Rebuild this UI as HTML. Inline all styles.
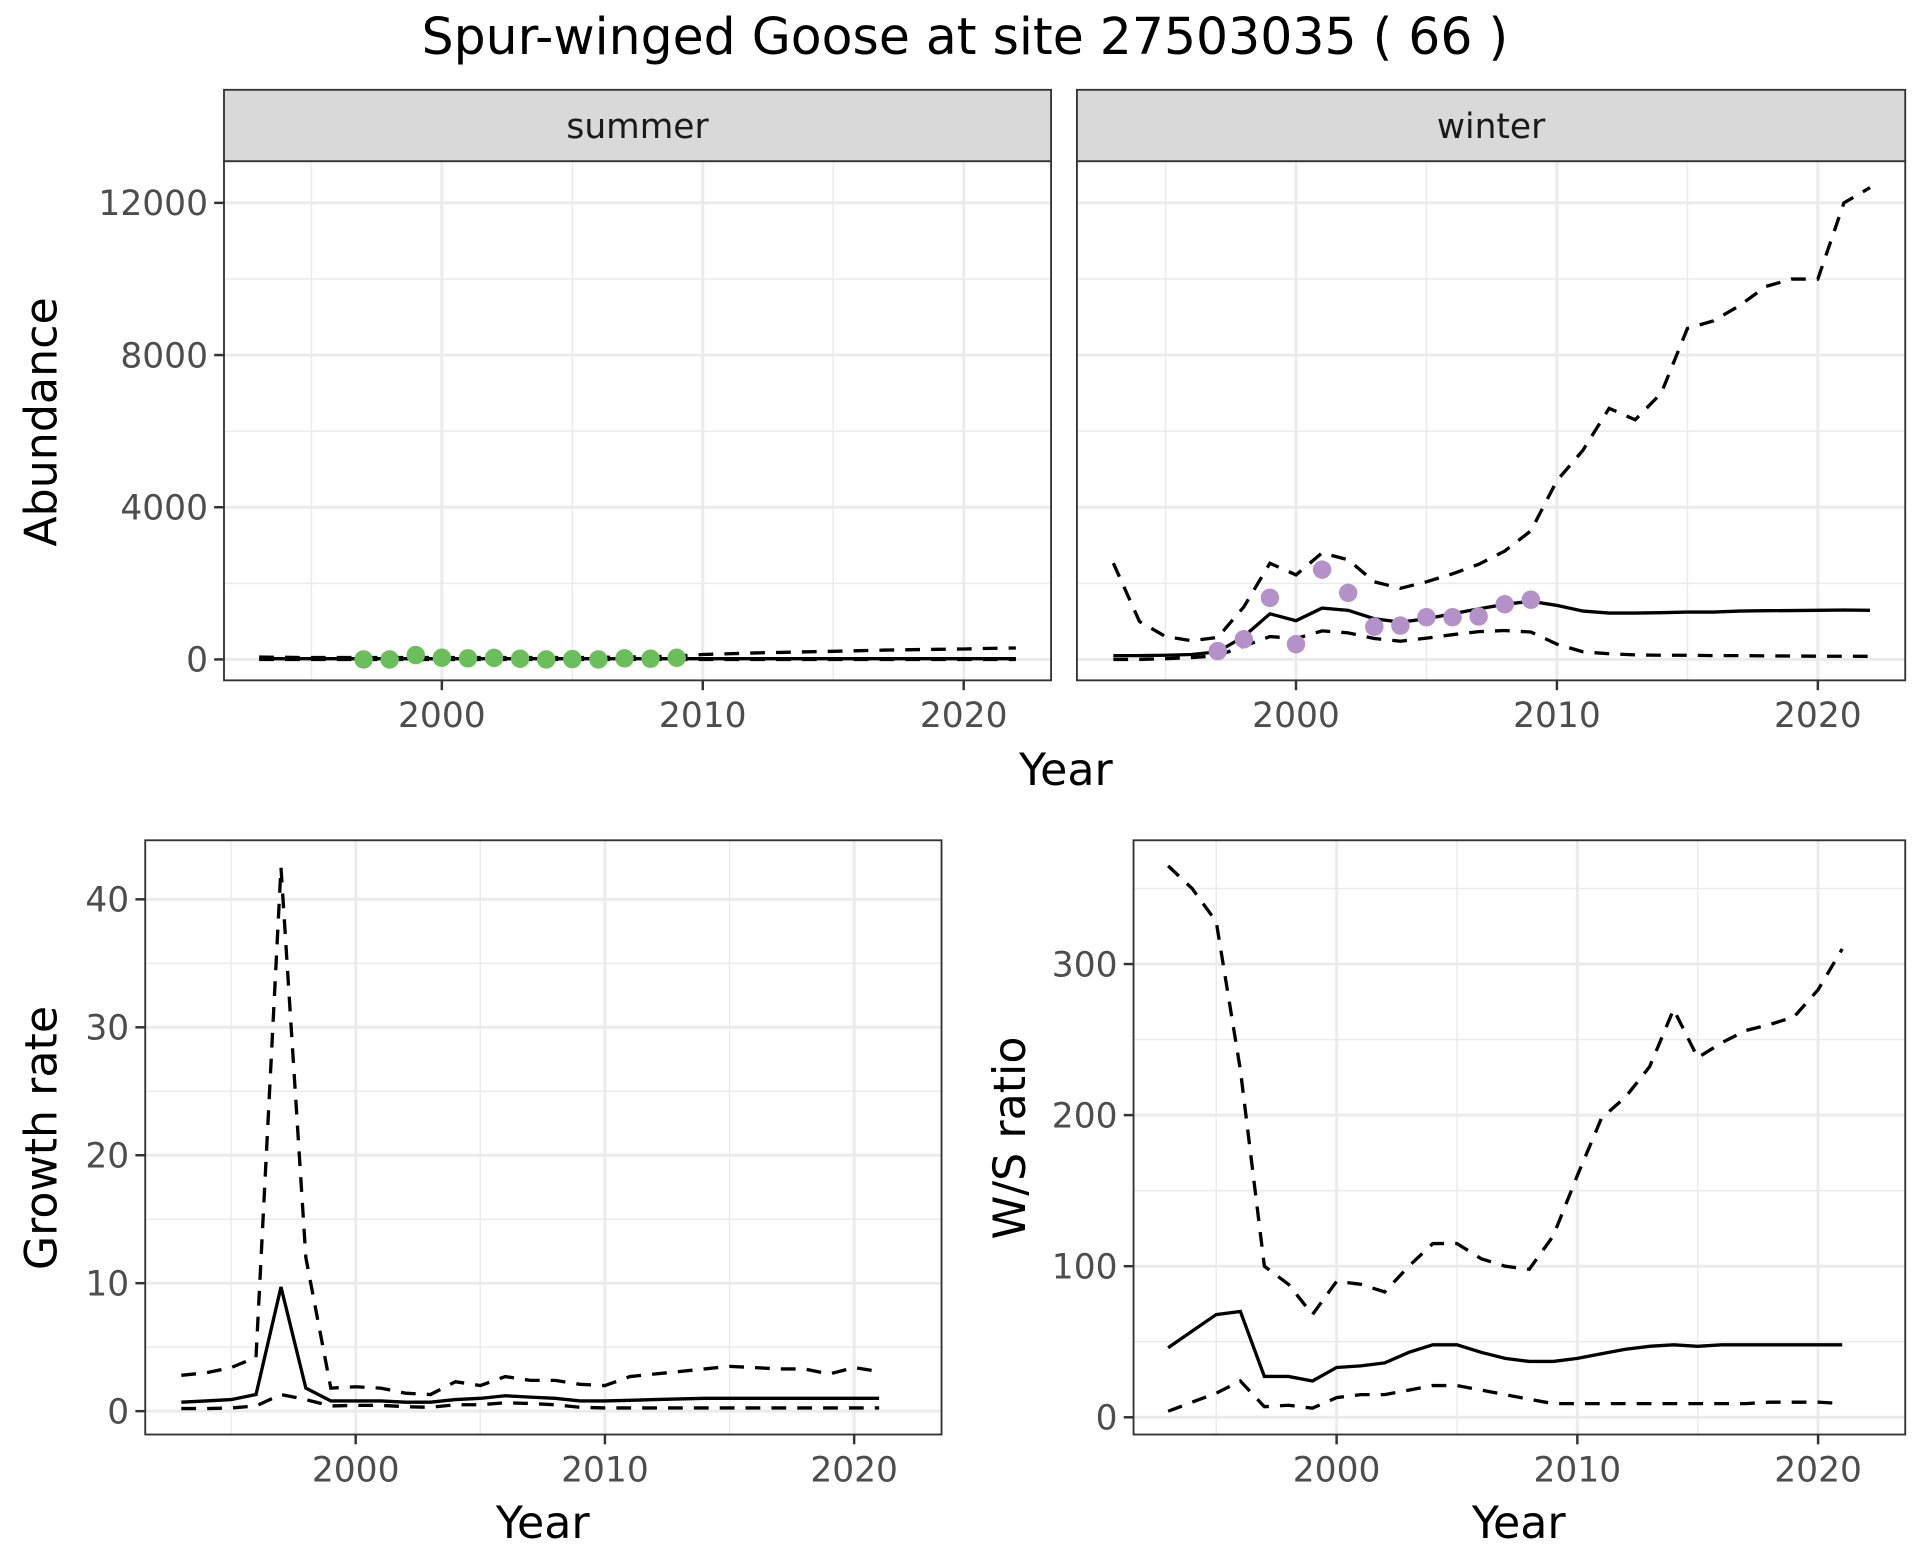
<!DOCTYPE html>
<html><head><meta charset="utf-8"><style>
html,body{margin:0;padding:0;background:#fff;}
svg{display:block;}
text{font-family:"DejaVu Sans","Liberation Sans",sans-serif;}
</style></head><body>
<svg id="chart" width="1920" height="1560" viewBox="0 0 1560 1268" preserveAspectRatio="none" xmlns="http://www.w3.org/2000/svg">
<rect x="0" y="0" width="1560" height="1268" fill="#fff"/>
<text x="784" y="44" font-size="41" text-anchor="middle" fill="#000">Spur-winged Goose at site 27503035 ( 66 )</text>
</svg>
<script>
const yearsA = [1993,1994,1995,1996,1997,1998,1999,2000,2001,2002,2003,2004,2005,2006,2007,2008,2009,2010,2011,2012,2013,2014,2015,2016,2017,2018,2019,2020,2021,2022];
const obsYears = [1997,1998,1999,2000,2001,2002,2003,2004,2005,2006,2007,2008,2009];
const summerMid = [20,20,20,20,20,20,20,20,20,20,20,20,20,20,20,20,20,20,20,20,20,20,20,20,20,20,20,20,20,20];
const summerUp = [60,55,50,50,50,50,50,50,50,50,50,50,50,55,60,70,90,130,150,170,185,200,215,230,245,255,265,275,290,300];
const summerLo = [0,0,0,0,0,0,0,0,0,0,0,0,0,0,0,0,0,0,0,0,0,0,0,0,0,0,0,0,0,0];
const summerObs = [0,0,115,45,30,40,20,0,10,0,30,20,45];
const winterMid = [100,100,110,130,200,600,1200,1020,1350,1290,1070,980,1070,1200,1330,1450,1530,1420,1270,1220,1220,1230,1245,1245,1270,1280,1285,1290,1300,1290];
const winterUp = [2530,1000,600,490,580,1380,2530,2220,2800,2620,2040,1870,2040,2250,2500,2850,3380,4700,5500,6600,6300,7000,8700,8900,9300,9800,10000,10000,12000,12400];
const winterLo = [0,0,20,50,100,350,600,550,750,700,550,480,560,650,730,760,720,400,200,150,120,110,110,100,100,95,90,85,85,80];
const winterObs = [220,530,1620,400,2360,1750,860,890,1110,1110,1130,1450,1570];
const yearsB = [1993,1994,1995,1996,1997,1998,1999,2000,2001,2002,2003,2004,2005,2006,2007,2008,2009,2010,2011,2012,2013,2014,2015,2016,2017,2018,2019,2020,2021];
const growthMid = [0.7,0.8,0.9,1.3,9.7,1.8,0.8,0.8,0.8,0.7,0.7,0.9,1.0,1.2,1.1,1.0,0.8,0.8,0.85,0.9,0.95,1.0,1.0,1.0,1.0,1.0,1.0,1.0,1.0];
const growthUp = [2.8,3.0,3.4,4.2,42.5,12,1.8,1.9,1.8,1.4,1.3,2.3,2.0,2.7,2.4,2.4,2.1,2.0,2.7,2.9,3.1,3.3,3.5,3.4,3.3,3.3,2.9,3.4,3.1];
const growthLo = [0.2,0.2,0.25,0.4,1.3,0.9,0.4,0.45,0.45,0.35,0.3,0.5,0.5,0.65,0.6,0.5,0.3,0.25,0.25,0.25,0.25,0.25,0.25,0.25,0.25,0.25,0.25,0.25,0.25];
const ratioMid = [46,57,68,70,27,27,24,33,34,36,43,48,48,43,39,37,37,39,42,45,47,48,47,48,48,48,48,48,48];
const ratioUp = [365,350,328,230,100,88,68,90,88,83,100,115,115,105,100,98,120,160,198,212,232,270,238,248,256,260,265,283,310];
const ratioLo = [4,10,16,24,7,8,6,13,15,15,18,21,21,18,15,12,9,9,9,9,9,9,9,9,9,10,10,10,9];
const xTicks = [2000,2010,2020];
const xMinor = [1995,2005,2015];
const abTicks = [0,4000,8000,12000];
const abMinor = [2000,6000,10000];
const grTicks = [0,10,20,30,40];
const grMinor = [5,15,25,35];
const raTicks = [0,100,200,300];
const raMinor = [50,150,250,350];

const NS = 'http://www.w3.org/2000/svg';
const svg = document.getElementById('chart');
const TICKFS = 28;
function mk(tag, attrs, parent){
  const e = document.createElementNS(NS, tag);
  for (const k in attrs) e.setAttribute(k, attrs[k]);
  (parent||svg).appendChild(e);
  return e;
}
function panel(name, x0, x1, y0, y1, x2000, pxYr, yZero, pxUnit, yT, yMin, showY){
  const g = mk('g', {});
  
  
  const sx = v => x2000 + (v - 2000) * pxYr;
  const sy = v => yZero - v * pxUnit;
  const clipId = name + '-clip';
  const cp = mk('clipPath', {id: clipId}, g);
  mk('rect', {x:x0, y:y0, width:x1-x0, height:y1-y0}, cp);
  yMin.forEach(v => { const l = mk('line', {x1:x0, x2:x1, y1:sy(v), y2:sy(v), stroke:'#ebebeb', 'stroke-width':1.2}, g);   });
  xMinor.forEach(v => { const l = mk('line', {x1:sx(v), x2:sx(v), y1:y0, y2:y1, stroke:'#ebebeb', 'stroke-width':1.2}, g);   });
  yT.forEach(v => { const l = mk('line', {x1:x0, x2:x1, y1:sy(v), y2:sy(v), stroke:'#ebebeb', 'stroke-width':2.4}, g);   });
  xTicks.forEach(v => { const l = mk('line', {x1:sx(v), x2:sx(v), y1:y0, y2:y1, stroke:'#ebebeb', 'stroke-width':2.4}, g);   });
  xTicks.forEach(v => {
    mk('line', {x1:sx(v), x2:sx(v), y1:y1, y2:y1+8, stroke:'#333', 'stroke-width':2}, g);
    const t = mk('text', {x:sx(v), y:y1+38, 'font-size':TICKFS, fill:'#4d4d4d', 'text-anchor':'middle'}, g);
    t.textContent = v;
    
    
  });
  if (showY) yT.forEach(v => {
    mk('line', {x1:x0-8, x2:x0, y1:sy(v), y2:sy(v), stroke:'#333', 'stroke-width':2}, g);
    const t = mk('text', {x:x0-13, y:sy(v)+10, 'font-size':TICKFS, fill:'#4d4d4d', 'text-anchor':'end'}, g);
    t.textContent = v;
    
    
  });
  const data = mk('g', {'clip-path': 'url(#' + clipId + ')'}, g);
  return {g: data, outer: g, sx, sy, border: () => { const r = mk('rect', {x:x0, y:y0, width:x1-x0, height:y1-y0, fill:'none', stroke:'#333', 'stroke-width':1.5}, g);   }};
}
function line(p, xs, ys, dashed, name){
  const d = xs.map((x,i) => (i?'L':'M') + p.sx(x).toFixed(1) + ',' + p.sy(ys[i]).toFixed(1)).join(' ');
  const e = mk('path', {d, fill:'none', stroke:'#000', 'stroke-width':2.7, 'stroke-dasharray': dashed ? '12,9' : 'none'}, p.g);
  
  
}
function points(p, xs, ys, color, name){
  xs.forEach((x,i) => {
    const c = mk('circle', {cx:p.sx(x), cy:p.sy(ys[i]), r:7.5, fill:color}, p.g);
    
    
  });
}
function strip(x0, x1, label, name){
  const r = mk('rect', {x:x0, y:73, width:x1-x0, height:58, fill:'#d9d9d9', stroke:'#333', 'stroke-width':1.5});
  
  
  const t = mk('text', {x:(x0+x1)/2, y:112, 'font-size':TICKFS, fill:'#1a1a1a', 'text-anchor':'middle'});
  t.textContent = label;
  
  
}
function title(x, y, txt, rot, name){
  const attrs = {x, y, 'font-size':36, fill:'#000', 'text-anchor':'middle'};
  if (rot) attrs.transform = `rotate(-90 ${x} ${y})`;
  const t = mk('text', attrs);
  t.textContent = txt;
  
  
}
const abPx = 123.7/4000;
const ps = panel('summer-panel', 182, 854, 131, 553, 359, 21.2, 536, abPx, abTicks, abMinor, true);
line(ps, yearsA, summerUp, true, 'summer-upper-ci');
line(ps, yearsA, summerLo, true, 'summer-lower-ci');
line(ps, yearsA, summerMid, false, 'summer-estimate');
points(ps, obsYears, summerObs, '#6abf5a', 'summer-count-point');
ps.border();
const pw = panel('winter-panel', 875, 1548, 131, 553, 1053, 21.2, 536, abPx, abTicks, abMinor, false);
line(pw, yearsA, winterUp, true, 'winter-upper-ci');
line(pw, yearsA, winterLo, true, 'winter-lower-ci');
line(pw, yearsA, winterMid, false, 'winter-estimate');
points(pw, obsYears, winterObs, '#b491c8', 'winter-count-point');
pw.border();
strip(182, 854, 'summer', 'summer-strip');
strip(875, 1548, 'winter', 'winter-strip');
title(866, 638, 'Year', false, 'x-axis-title-top');
title(46, 343, 'Abundance', true, 'y-axis-title-abundance');

const pg = panel('growth-panel', 118, 765, 683, 1166, 289, 20.25, 1147, 10.4, grTicks, grMinor, true);
line(pg, yearsB, growthUp, true, 'growth-upper-ci');
line(pg, yearsB, growthLo, true, 'growth-lower-ci');
line(pg, yearsB, growthMid, false, 'growth-estimate');
pg.border();
title(441, 1250, 'Year', false, 'x-axis-title-growth');
title(46, 925, 'Growth rate', true, 'y-axis-title-growth');

const pr = panel('ratio-panel', 921, 1548, 683, 1166, 1086, 19.56, 1152, 1.228, raTicks, raMinor, true);
line(pr, yearsB, ratioUp, true, 'ratio-upper-ci');
line(pr, yearsB, ratioLo, true, 'ratio-lower-ci');
line(pr, yearsB, ratioMid, false, 'ratio-estimate');
pr.border();
title(1234, 1250, 'Year', false, 'x-axis-title-ratio');
title(833, 925, 'W/S ratio', true, 'y-axis-title-ratio');
</script>
</body></html>
